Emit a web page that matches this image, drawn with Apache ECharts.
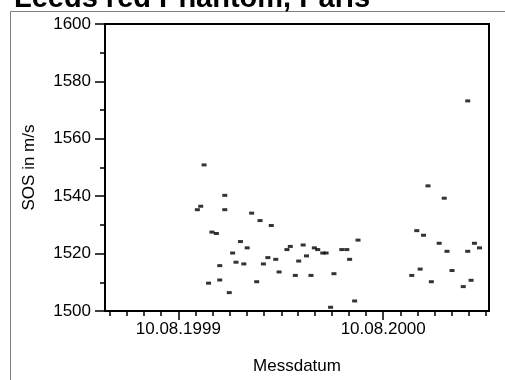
<!DOCTYPE html>
<html>
<head>
<meta charset="utf-8">
<script src="https://cdn.jsdelivr.net/npm/echarts@6/dist/echarts.min.js"></script>
<style>
html,body{margin:0;padding:0;background:#fff;}
#chart{width:505px;height:380px;}
</style>
</head>
<body>
<div id="chart"></div>
<script>
// ---- data ----
const measureDates = [
  '1999-09-13','1999-09-19','1999-09-25','1999-10-03','1999-10-09','1999-10-17',
  '1999-10-23','1999-10-23','1999-11-01','1999-11-01','1999-11-09','1999-11-15',
  '1999-11-21','1999-11-29','1999-12-05','1999-12-11','1999-12-19','1999-12-28',
  '2000-01-03','2000-01-09','2000-01-17','2000-01-23','2000-01-31','2000-02-06',
  '2000-02-20','2000-02-26','2000-03-06','2000-03-12','2000-03-20','2000-03-26',
  '2000-04-03','2000-04-09','2000-04-15','2000-04-24','2000-04-30','2000-05-08',
  '2000-05-14','2000-05-28','2000-06-06','2000-06-11','2000-06-20','2000-06-26',
  '2000-09-30','2000-10-09','2000-10-15','2000-10-21','2000-10-29','2000-11-04',
  '2000-11-18','2000-11-27','2000-12-02','2000-12-11','2000-12-31','2001-01-08',
  '2001-01-08','2001-01-14','2001-01-20','2001-01-29'
];
const sosValues = [
  1535.3,1536.5,1550.9,1509.7,1527.5,1527.0,
  1515.8,1510.8,1540.3,1535.3,1506.4,1520.2,
  1517.0,1524.2,1516.4,1522.0,1534.1,1510.2,
  1531.5,1516.4,1518.6,1529.8,1518.0,1513.6,
  1521.4,1522.5,1512.4,1517.4,1523.0,1519.2,
  1512.4,1522.0,1521.4,1520.2,1520.2,1501.3,
  1513.0,1521.4,1521.4,1518.0,1503.5,1524.7,
  1512.4,1528.0,1514.6,1526.4,1543.6,1510.2,
  1523.6,1539.3,1520.8,1514.1,1508.5,1573.2,
  1520.8,1510.7,1523.6,1522.0
];
const majorTickDates = ['1999-08-10','2000-08-10'];
const minorTickDates = [
  '1999-04-10','1999-05-10','1999-06-10','1999-07-10','1999-09-10','1999-10-10',
  '1999-11-10','1999-12-10','2000-01-10','2000-02-10','2000-03-10','2000-04-10',
  '2000-05-10','2000-06-10','2000-07-10','2000-09-10','2000-10-10','2000-11-10',
  '2000-12-10','2001-01-10','2001-02-10'
];
const xMinDate = '1999-04-01';
const xMaxDate = '2001-02-15';
const yMin = 1500, yMax = 1600, yStep = 20;
const titleText = 'Leeds red Phantom, Paris';
const xName = 'Messdatum';
const yName = 'SOS in m/s';

// ---- chart ----
const ts = s => new Date(s + 'T00:00:00Z').getTime();
const pad = n => (n < 10 ? '0' : '') + n;
const fmtDate = v => { const d = new Date(v); return pad(d.getUTCDate()) + '.' + pad(d.getUTCMonth() + 1) + '.' + d.getUTCFullYear(); };
const FONT = 'Liberation Sans';

const chart = echarts.init(document.getElementById('chart'), null, {renderer: 'canvas'});
chart.setOption({
  animation: false,
  backgroundColor: '#fff',
  textStyle: {fontFamily: FONT, color: '#000'},
  title: {
    text: titleText, left: 9, top: -21,
    textStyle: {fontFamily: FONT, fontSize: 29, fontWeight: 'bold', color: '#000'}
  },
  graphic: [{
    type: 'rect', shape: {x: 10.5, y: 11.5, width: 600, height: 500},
    style: {fill: 'none', stroke: '#808080', lineWidth: 1}, silent: true, z: -1
  }],
  grid: {left: 105, right: 16, top: 24, bottom: 68, show: true, borderColor: '#000', borderWidth: 2, backgroundColor: 'transparent'},
  xAxis: [{
    type: 'value', min: ts(xMinDate), max: ts(xMaxDate), scale: true,
    name: xName, nameLocation: 'middle', nameGap: 47,
    nameTextStyle: {fontFamily: FONT, fontSize: 17, color: '#000'},
    axisLine: {show: true, onZero: false, lineStyle: {color: '#000', width: 2}},
    axisTick: {show: true, length: 9, lineStyle: {color: '#000', width: 1.5}, customValues: majorTickDates.map(ts)},
    axisLabel: {show: true, margin: 10, fontFamily: FONT, fontSize: 17, color: '#000',
      customValues: majorTickDates.map(ts), formatter: v => fmtDate(v), hideOverlap: false},
    splitLine: {show: false}
  }, {
    type: 'value', min: ts(xMinDate), max: ts(xMaxDate), scale: true, position: 'bottom',
    axisLine: {show: false, onZero: false},
    axisTick: {show: true, length: 5, lineStyle: {color: '#000', width: 1.5}, customValues: minorTickDates.map(ts)},
    axisLabel: {show: false},
    splitLine: {show: false}
  }],
  yAxis: {
    type: 'value', min: yMin, max: yMax, interval: yStep,
    name: yName, nameLocation: 'middle', nameGap: 67,
    nameTextStyle: {fontFamily: FONT, fontSize: 17, color: '#000'},
    axisLine: {show: true, lineStyle: {color: '#000', width: 2}},
    axisTick: {show: true, length: 10, lineStyle: {color: '#000', width: 1.5}},
    minorTick: {show: true, splitNumber: 2, length: 5, lineStyle: {color: '#000', width: 1.5}},
    axisLabel: {margin: 14, fontFamily: FONT, fontSize: 17, color: '#000', formatter: v => String(v)},
    splitLine: {show: false}
  },
  series: [{
    type: 'scatter', xAxisIndex: 0,
    symbol: 'rect', symbolSize: [5, 3],
    itemStyle: {color: '#000'},
    data: measureDates.map((d, i) => [ts(d), sosValues[i]])
  }]
});
</script>
</body>
</html>
